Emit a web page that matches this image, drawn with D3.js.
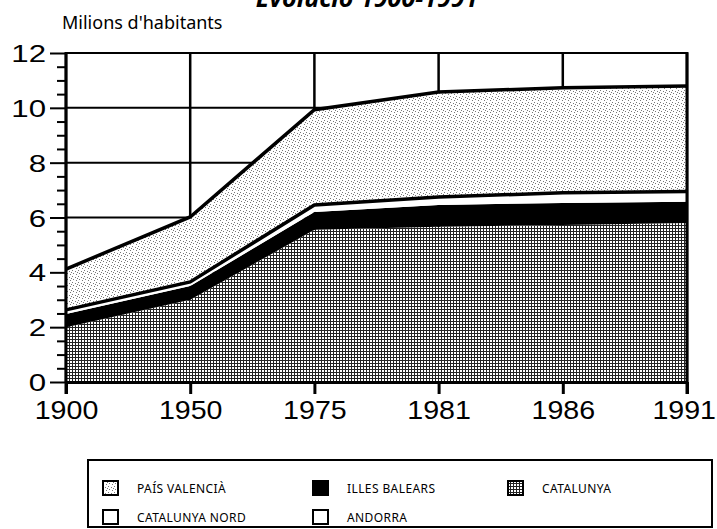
<!DOCTYPE html>
<html>
<head>
<meta charset="utf-8">
<script src="https://cdn.jsdelivr.net/npm/d3@7"></script>
<style>
  body { margin: 0; background: #fff; }
  svg { display: block; }
  text { font-family: "Noto Sans", sans-serif; fill: #000; }
  .num { font-family: "Liberation Sans", Arial, sans-serif; }
</style>
</head>
<body>
<svg id="chart" width="717" height="529"></svg>
<script>
// data (milions d'habitants)
const years = ['1900', '1950', '1975', '1981', '1986', '1991'];
const catalunya = [2.0, 3.0, 5.55, 5.66, 5.73, 5.8];
const illesBalears = [0.48, 0.5, 0.65, 0.8, 0.8, 0.77];
const catalunyaNord = [0.14, 0.14, 0.23, 0.26, 0.33, 0.34];
const andorra = [0.01, 0.01, 0.03, 0.03, 0.04, 0.04];
const paisValencia = [1.49, 2.37, 3.47, 3.83, 3.83, 3.85];
const yTicks = [0, 2, 4, 6, 8, 10, 12];
const yMinorTicks = [0.5, 1, 1.5, 2.5, 3, 3.5, 4.5, 5, 5.5, 6.5, 7, 7.5, 8.5, 9, 9.5, 10.5, 11, 11.5];
const legendNames = ['PAÍS VALENCIÀ', 'ILLES BALEARS', 'CATALUNYA', 'CATALUNYA NORD', 'ANDORRA'];

var svg = d3.select('#chart');
var defs = svg.append('defs');

// grid pattern (Catalunya)
var pGrid = defs.append('pattern').attr('id', 'grid')
    .attr('patternUnits', 'userSpaceOnUse').attr('width', 3).attr('height', 3);
pGrid.append('rect').attr('width', 3).attr('height', 3).attr('fill', '#fff');
pGrid.append('rect').attr('width', 1).attr('height', 3).attr('fill', '#222');
pGrid.append('rect').attr('width', 3).attr('height', 1).attr('fill', '#222');

// stipple pattern (País Valencià)
var pDots = defs.append('pattern').attr('id', 'dots')
    .attr('patternUnits', 'userSpaceOnUse').attr('width', 6).attr('height', 6);
pDots.append('rect').attr('width', 6).attr('height', 6).attr('fill', '#fff');
[[0, 0], [3, 1], [1, 3], [4, 4], [5, 2]].forEach(d => {
    pDots.append('rect').attr('x', d[0]).attr('y', d[1]).attr('width', 1).attr('height', 1).attr('fill', '#777');
});

var x = d3.scalePoint().domain(years).range([66, 687]);
var y = d3.scaleLinear().domain([0, 12]).range([382, 53]);

// title (cut off at the top)
svg.append('text')
    .attr('x', 367).attr('y', 7)
    .attr('text-anchor', 'middle')
    .style('font-size', '25px').style('font-weight', 'bold').style('font-style', 'italic')
    .text('Evolució 1900-1991');

svg.append('text')
    .attr('x', 62).attr('y', 29)
    .style('font-size', '18px')
    .text("Milions d'habitants");

// grid lines
var grid = svg.append('g');
yTicks.forEach(v => {
    grid.append('line')
        .attr('x1', x('1900')).attr('x2', x('1991'))
        .attr('y1', y(v)).attr('y2', y(v))
        .attr('stroke', '#000').attr('stroke-width', 2);
});
years.forEach(yr => {
    grid.append('line')
        .attr('x1', x(yr)).attr('x2', x(yr))
        .attr('y1', y(12)).attr('y2', y(0))
        .attr('stroke', '#000').attr('stroke-width', 2.5);
});

// stacked areas
var rows = years.map((yr, i) => ({
    year: yr,
    cat: catalunya[i],
    ib: illesBalears[i],
    cn: catalunyaNord[i],
    and: andorra[i],
    pv: paisValencia[i]
}));
var keys = ['cat', 'ib', 'cn', 'and', 'pv'];
var fills = { cat: 'url(#grid)', ib: '#000', cn: '#fff', and: '#fff', pv: 'url(#dots)' };
var series = d3.stack().keys(keys)(rows);

var area = d3.area()
    .x(d => x(d.data.year))
    .y0(d => y(d[0]))
    .y1(d => y(d[1]));

svg.append('g').selectAll('path')
    .data(series)
    .join('path')
    .attr('d', area)
    .attr('fill', d => fills[d.key]);

var topLine = d3.line()
    .x(d => x(d.data.year))
    .y(d => y(d[1]));

// boundary under País Valencià and its top line
svg.append('path').datum(series[3])
    .attr('d', topLine).attr('fill', 'none')
    .attr('stroke', '#000').attr('stroke-width', 3.5);
svg.append('path').datum(series[4])
    .attr('d', topLine).attr('fill', 'none')
    .attr('stroke', '#000').attr('stroke-width', 3.5);

// right border
svg.append('line')
    .attr('x1', x('1991')).attr('x2', x('1991'))
    .attr('y1', y(12) - 1).attr('y2', y(0) + 12)
    .attr('stroke', '#000').attr('stroke-width', 3);

// y axis
var yAxis = svg.append('g')
    .attr('transform', 'translate(' + x('1900') + ',0)')
    .call(d3.axisLeft(y).tickValues(yTicks).tickSize(16).tickSizeOuter(0).tickPadding(4).tickFormat(d3.format('d')));
yAxis.select('.domain').remove();
yAxis.selectAll('.tick line').attr('stroke-width', 2);
yAxis.selectAll('.tick text')
    .attr('class', 'num')
    .style('font-size', '24px')
    .attr('transform', 'scale(1.3,1)')
    .attr('x', -20 / 1.3)
    .attr('dy', '0.36em');

var yMinor = svg.append('g')
    .attr('transform', 'translate(' + x('1900') + ',0)')
    .call(d3.axisLeft(y).tickValues(yMinorTicks).tickSize(9).tickSizeOuter(0).tickFormat(''));
yMinor.select('.domain').remove();
yMinor.selectAll('.tick line').attr('stroke-width', 2);

svg.append('line')
    .attr('x1', x('1900')).attr('x2', x('1900'))
    .attr('y1', y(12) - 1).attr('y2', y(0) + 12)
    .attr('stroke', '#000').attr('stroke-width', 3);

// x axis
var xAxis = svg.append('g')
    .attr('transform', 'translate(0,' + y(0) + ')')
    .call(d3.axisBottom(x).tickSize(12).tickSizeOuter(0).tickPadding(0));
xAxis.select('.domain').attr('stroke-width', 3);
xAxis.selectAll('.tick line').attr('stroke-width', 3);
xAxis.selectAll('.tick text')
    .attr('class', 'num')
    .style('font-size', '26px')
    .attr('dy', 0)
    .attr('y', 37)
    .attr('transform', 'scale(1.1,1)')
    .attr('x', d => d === '1991' ? -3 : 0);

// legend
var leg = svg.append('g');
leg.append('rect')
    .attr('x', 88).attr('y', 460).attr('width', 624).attr('height', 67)
    .attr('fill', 'none').attr('stroke', '#000').attr('stroke-width', 2);

var legFills = ['url(#dots)', '#000', 'url(#grid)', '#fff', '#fff'];
var legPos = [[103, 488], [313, 488], [508, 488], [103, 517], [313, 517]];
legendNames.forEach((name, i) => {
    var p = legPos[i];
    leg.append('rect')
        .attr('x', p[0]).attr('y', p[1] - 7).attr('width', 15).attr('height', 14)
        .attr('fill', legFills[i]).attr('stroke', '#000').attr('stroke-width', 2);
    leg.append('text')
        .attr('x', p[0] + 34).attr('y', p[1] + 4.5)
        .style('font-size', '12px').style('letter-spacing', '0.4px')
        .text(name);
});
</script>
</body>
</html>
